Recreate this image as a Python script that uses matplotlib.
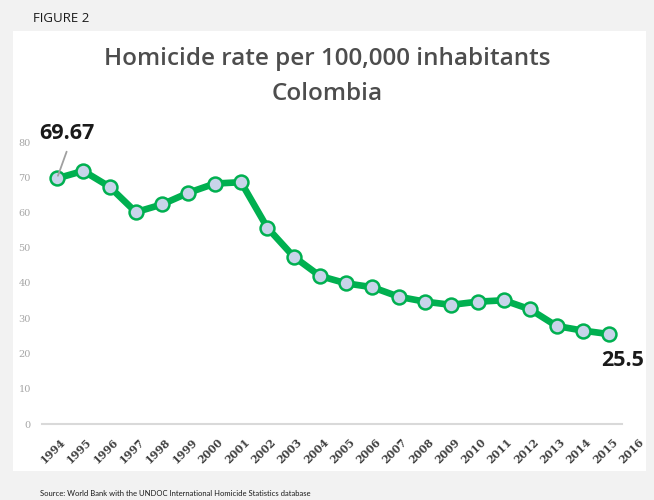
import matplotlib.pyplot as plt
from matplotlib.patches import Rectangle

# Homicide rate per 100,000 inhabitants, Colombia
years = list(range(1994, 2016))
rates = [69.67, 71.8, 67.3, 60.1, 62.3, 65.6, 68.2, 68.6, 55.7, 47.5, 42.0,
         39.9, 38.8, 36.1, 34.7, 33.8, 34.7, 35.1, 32.5, 27.8, 26.5, 25.5]
tick_years = list(range(1994, 2017))
y_ticks = [0, 10, 20, 30, 40, 50, 60, 70, 80]

W, H = 654, 500
fig = plt.figure(figsize=(W / 100, H / 100), dpi=100)
fig.patch.set_facecolor("#f2f2f2")

# white chart panel
fig.patches.append(Rectangle((13 / W, 1 - 471 / H), (646 - 13) / W, (471 - 31) / H,
                             transform=fig.transFigure, facecolor="white",
                             edgecolor="none", zorder=-5))

ax = fig.add_axes([42 / W, 1 - 424 / H, (622 - 42) / W, (424 - 142) / H])
ax.set_facecolor("none")
ax.set_zorder(2)

ax.plot(years, rates, color="#00b050", linewidth=4.8, marker="o", markersize=10,
        markerfacecolor="#c8d4ea", markeredgecolor="#00b050", markeredgewidth=1.8,
        solid_joinstyle="round", zorder=3)

ax.set_xlim(1993.43, 2015.49)
ax.set_ylim(0, 80)
for s in ["top", "right", "left"]:
    ax.spines[s].set_visible(False)
ax.spines["bottom"].set_color("#d9d9d9")
ax.spines["bottom"].set_linewidth(1.5)

ax.set_yticks(y_ticks)
ax.set_yticklabels([str(v) for v in y_ticks], family="DejaVu Serif",
                   fontsize=7, color="#a6a6a6")
ax.tick_params(axis="y", length=0, pad=8)
ax.set_xticks([])

# rotated year labels (2016 lies past the plotted range)
for yr in tick_years:
    ax.annotate(str(yr), xy=(yr, 0), xycoords=("data", "axes fraction"),
                xytext=(2, -9), textcoords="offset points",
                rotation=45, rotation_mode="anchor", ha="right", va="top",
                family="DejaVu Serif", fontweight="bold", fontsize=7.8,
                color="#404040", annotation_clip=False)

# first and last value labels
ax.annotate(f"{rates[0]:.2f}", xy=(years[0], rates[0]), xytext=(years[0] - 0.68, 82.5),
            textcoords="data", ha="left", va="center", fontsize=15.5, fontweight="bold",
            family="Open Sans", color="#1a1a1a",
            arrowprops=dict(arrowstyle="-", color="#a0a0a0", lw=1.3,
                            shrinkA=4, shrinkB=2, relpos=(0.55, 0)),
            annotation_clip=False)
ax.annotate(f"{rates[-1]:.1f}", xy=(years[-1], rates[-1]), xytext=(-6, -19),
            textcoords="offset points", ha="left", va="center", fontsize=15.5,
            fontweight="bold", family="Open Sans", color="#1a1a1a",
            annotation_clip=False)

fig.text(327 / W, 1 - 59 / H, "Homicide rate per 100,000 inhabitants", ha="center",
         va="center", fontsize=17.5, family="Open Sans", fontweight="semibold",
         color="#4d4d4d")
fig.text(327 / W, 1 - 94 / H, "Colombia", ha="center", va="center", fontsize=17.5,
         family="Open Sans", fontweight="semibold", color="#4d4d4d")
fig.text(33 / W, 1 - 18 / H, "FIGURE 2", ha="left", va="center", fontsize=9.5,
         family="Open Sans", color="#1a1a1a")
fig.text(40 / W, 1 - 493 / H,
         "Source: World Bank with the UNDOC International Homicide Statistics database",
         ha="left", va="center", fontsize=5.5, family="Lato", color="#1a1a1a")

fig.savefig("out.png", dpi=100, facecolor=fig.get_facecolor())
